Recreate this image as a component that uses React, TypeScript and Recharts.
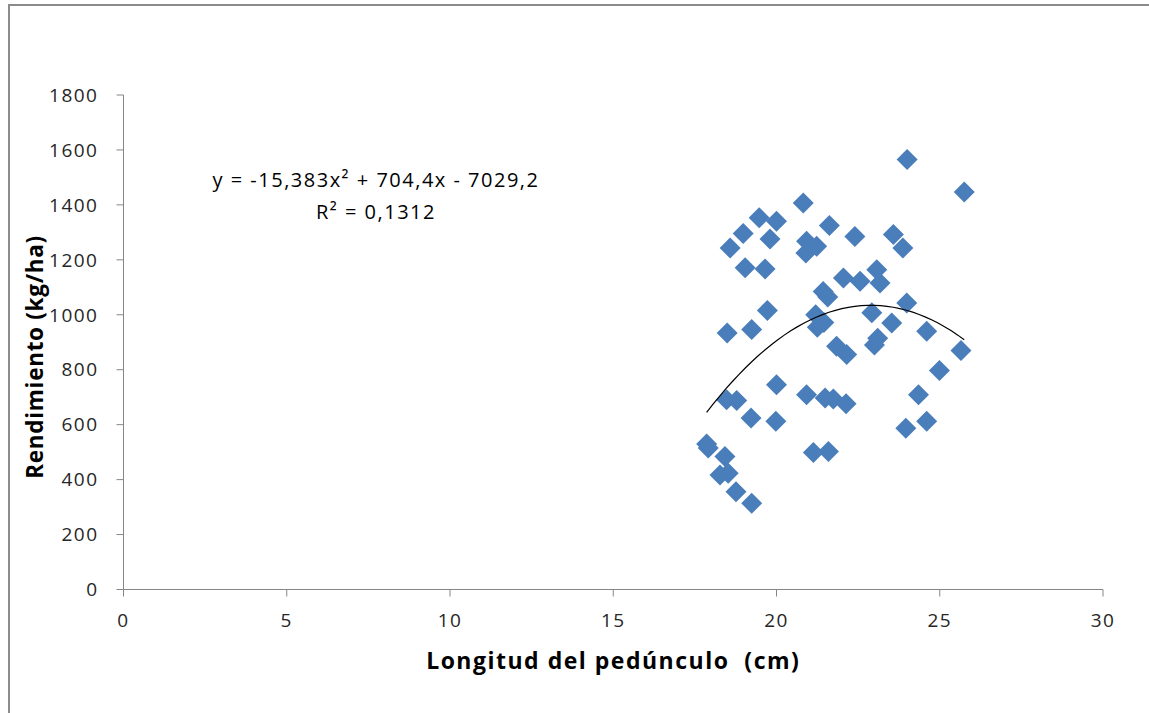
import { ScatterChart, Scatter, XAxis, YAxis } from "recharts";

// Longitud del pedúnculo (cm) vs rendimiento (kg/ha)
const lengths = [
  24.0, 25.75, 23.58, 23.87, 23.07, 23.17, 22.4, 22.56, 23.99, 22.92,
  23.53, 24.6, 23.1, 23.0, 25.65, 24.99, 24.35, 24.6, 23.96,
  20.82, 19.47, 20.0, 21.62, 18.98, 19.8, 20.92, 21.23, 18.58, 20.9,
  19.04, 19.65, 22.05, 21.43, 21.57, 19.72, 21.2, 21.25, 21.45, 18.49, 19.24,
  21.84, 22.15, 20.0, 20.92, 21.49, 21.74, 22.13, 18.47, 18.78, 19.22,
  19.98, 17.86, 17.91, 18.42, 18.52, 18.27, 18.76, 19.24, 21.13, 21.59,
];
const yields = [
  1565, 1447, 1292, 1243, 1164, 1116, 1285, 1122, 1043, 1007,
  970, 940, 915, 890, 870, 797, 709, 612, 587,
  1407, 1353, 1340, 1325, 1296, 1276, 1268, 1249, 1243, 1225,
  1171, 1167, 1134, 1085, 1065, 1016, 1000, 955, 972, 934, 946,
  885, 855, 745, 709, 697, 693, 676, 691, 688, 624,
  612, 530, 515, 484, 423, 417, 356, 314, 499, 502,
];

// polynomial trend line shown on the chart: y = a x² + b x + c
const trendCoef = { a: -15.383, b: 704.4, c: -7029.2 };
const equationText = "y = -15,383x² + 704,4x - 7029,2";
const r2Text = "R² = 0,1312";

const xTicks = [0, 5, 10, 15, 20, 25, 30];
const yTicks = [0, 200, 400, 600, 800, 1000, 1200, 1400, 1600, 1800];

const points = lengths.map((x, i) => ({ x, y: yields[i] }));

const xMin = Math.min(...lengths);
const xMax = Math.max(...lengths);
const trendPoints = Array.from({ length: 41 }, (_, i) => {
  const x = xMin + ((xMax - xMin) * i) / 40;
  return { x, y: trendCoef.a * x * x + trendCoef.b * x + trendCoef.c };
});

const FONT = "'Open Sans', 'Liberation Sans', sans-serif";
const AXIS_COLOR = "#868686";
const MARKER = "#4a7ebb";
const tickStyle = { fontFamily: FONT, fontSize: 19, fill: "#262626", letterSpacing: 1.5 };

const Diamond = (props: any) => {
  const { cx, cy } = props;
  const r = 10.5;
  return (
    <path
      d={`M${cx},${cy - r}L${cx + r},${cy}L${cx},${cy + r}L${cx - r},${cy}Z`}
      fill={MARKER}
    />
  );
};

const YTitle = () => {
  const cx = 34;
  const cy = 357;
  return (
    <text
      x={cx}
      y={cy}
      transform={`rotate(-90, ${cx}, ${cy})`}
      textAnchor="middle"
      dominantBaseline="central"
      fontFamily={FONT}
      fontWeight="bold"
      fontSize={22.5}
      letterSpacing={0.7}
      fill="#000"
    >
      Rendimiento (kg/ha)
    </text>
  );
};

export default function App() {
  return (
    <div
      style={{
        position: "absolute",
        left: 0,
        top: 0,
        width: 1149,
        height: 713,
        overflow: "hidden",
        background: "#fff",
      }}
    >
      <div
        style={{
          position: "absolute",
          left: 8,
          top: 4,
          width: 1300,
          height: 900,
          border: "2px solid #8c8c8c",
        }}
      />
      <div style={{ position: "absolute", left: 0, top: 0 }}>
        <ScatterChart
          width={1149}
          height={713}
          margin={{ top: 95, right: 46, bottom: 93.5, left: 0 }}
        >
          <XAxis
            type="number"
            dataKey="x"
            domain={[0, 30]}
            ticks={xTicks}
            height={30}
            stroke={AXIS_COLOR}
            tickSize={7}
            tickMargin={17}
            tick={tickStyle}
            label={{
              value: "Longitud del pedúnculo\u00a0\u00a0(cm)",
              position: "bottom",
              offset: 33,
              style: { fontFamily: FONT, fontSize: 23, fontWeight: "bold", fill: "#000", letterSpacing: 1.5 },
            }}
          />
          <YAxis
            type="number"
            dataKey="y"
            domain={[0, 1800]}
            ticks={yTicks}
            width={123.5}
            stroke={AXIS_COLOR}
            tickSize={7}
            tickMargin={18}
            tick={tickStyle}
            label={{ content: <YTitle /> }}
          />
          <Scatter data={points} shape={<Diamond />} isAnimationActive={false} />
          <Scatter
            data={trendPoints}
            line={{ stroke: "#000", strokeWidth: 1.2 }}
            lineType="joint"
            shape={() => <g />}
            isAnimationActive={false}
          />
        </ScatterChart>
      </div>
      <div
        style={{
          position: "absolute",
          left: 176,
          top: 164,
          width: 400,
          textAlign: "center",
          fontFamily: FONT,
          fontSize: 20,
          letterSpacing: 1.5,
          lineHeight: "32px",
          color: "#000",
        }}
      >
        <div>{equationText}</div>
        <div>{r2Text}</div>
      </div>
    </div>
  );
}
